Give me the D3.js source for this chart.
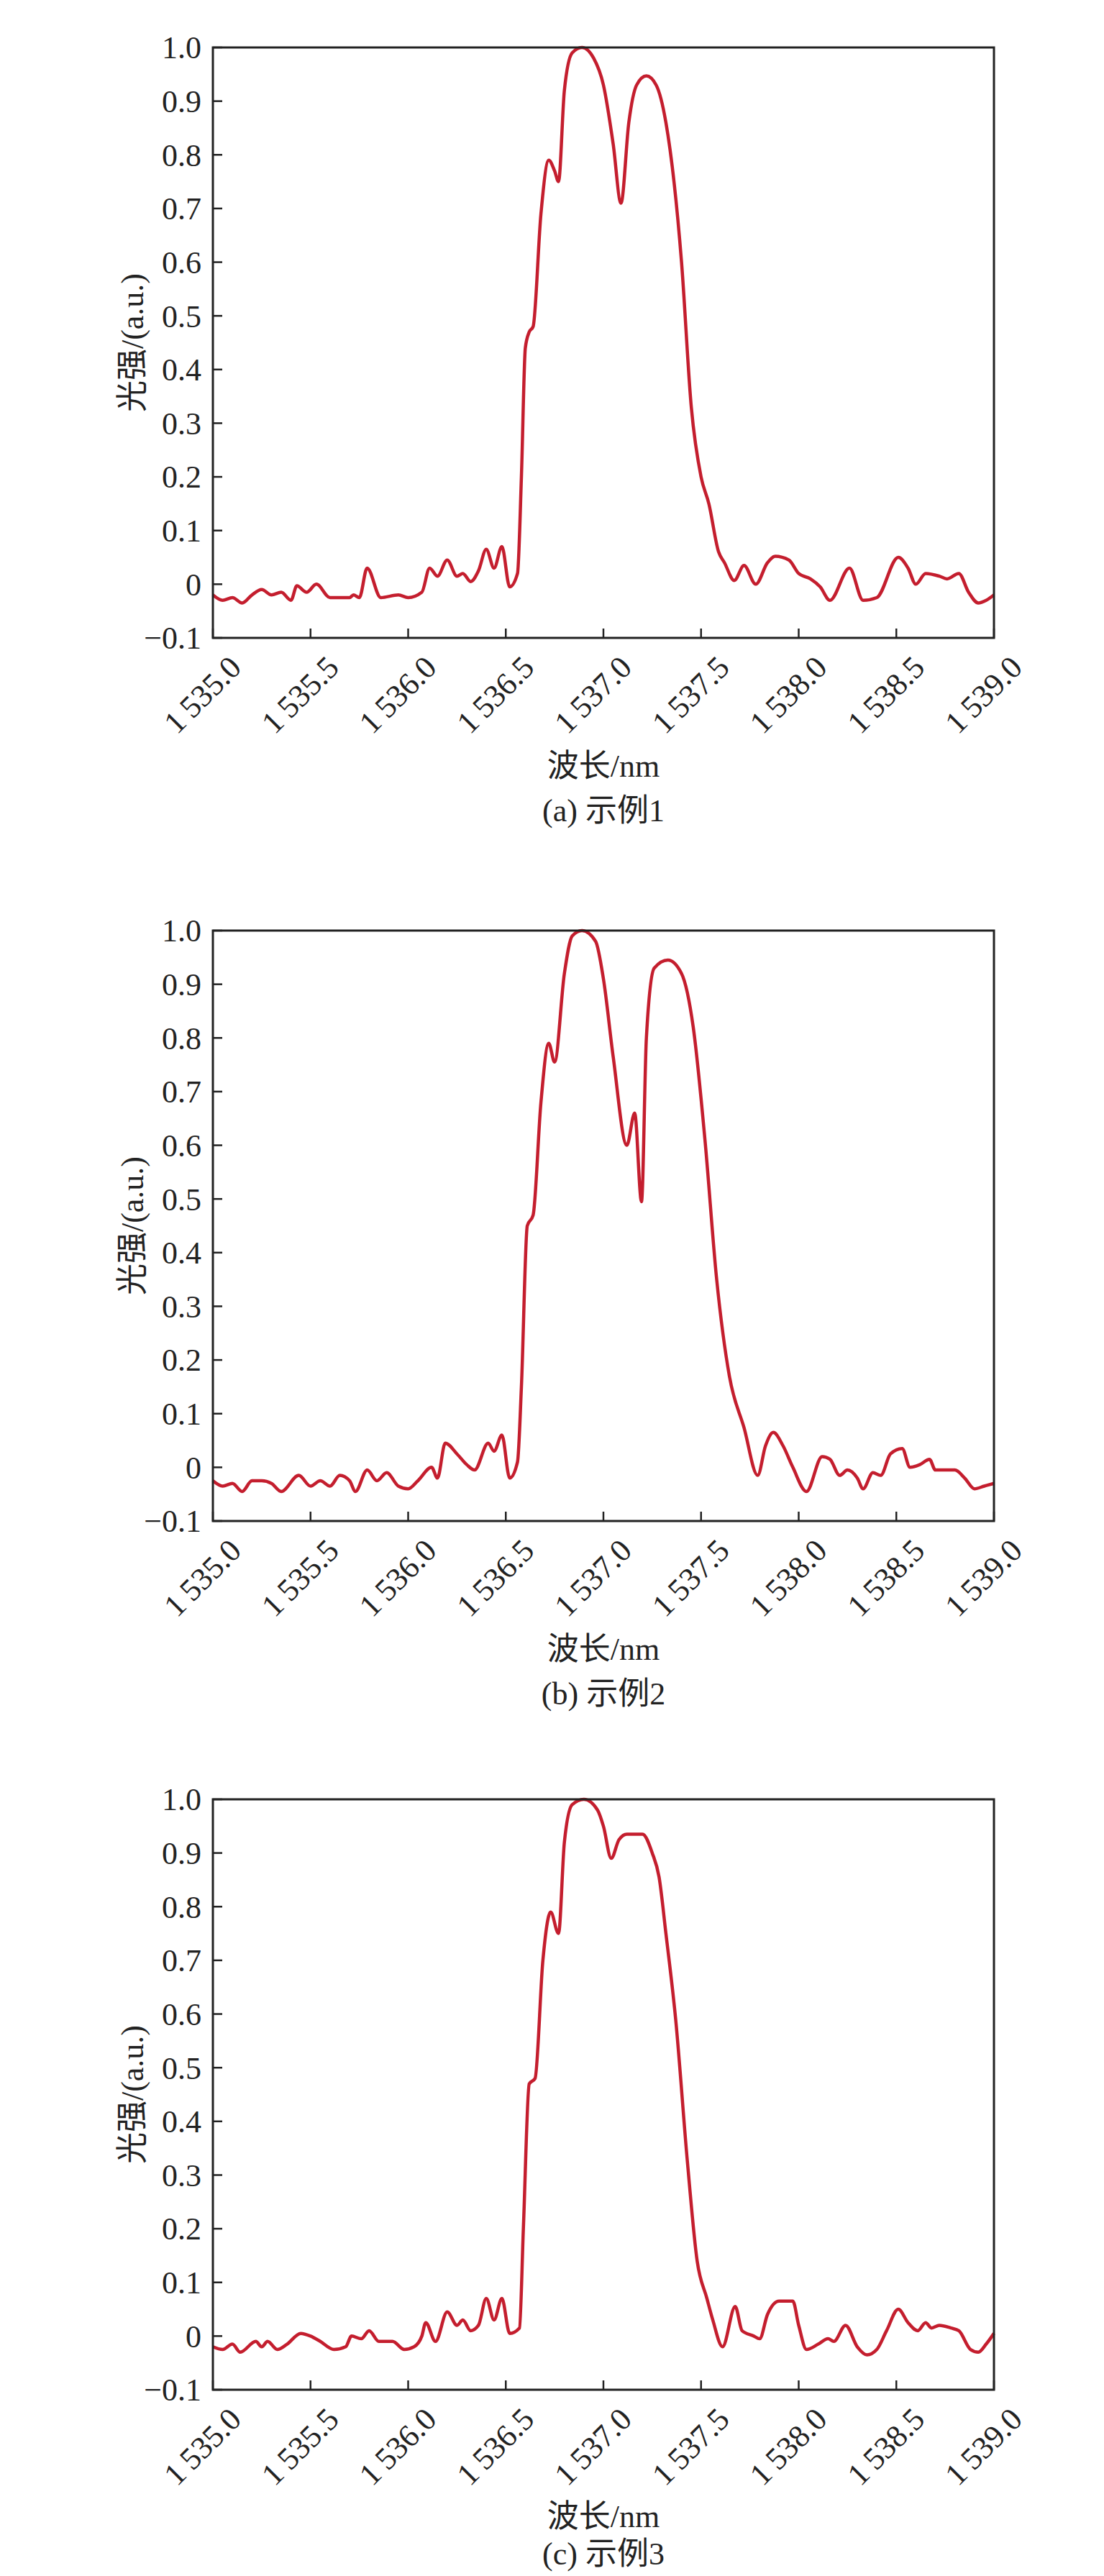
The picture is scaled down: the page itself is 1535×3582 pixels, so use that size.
<!DOCTYPE html>
<html><head><meta charset="utf-8">
<script src="https://cdn.jsdelivr.net/npm/d3@7"></script>
<style>body{margin:0;background:#fff}</style>
</head><body>
<svg id="c" width="1535" height="3582"></svg>
<script>
const xTicks = [1535.0,1535.5,1536.0,1536.5,1537.0,1537.5,1538.0,1538.5,1539.0];
const yTicks = [-0.1,0,0.1,0.2,0.3,0.4,0.5,0.6,0.7,0.8,0.9,1.0];
const captions = ["(a) 示例1","(b) 示例2","(c) 示例3"];
const xTitle = "波长/nm";
const yTitle = "光强/(a.u.)";

const wl1 = [1535.00,1535.05,1535.10,1535.15,1535.20,1535.25,1535.30,1535.35,1535.40,1535.43,1535.48,1535.53,1535.60,1535.70,1535.72,1535.75,1535.79,1535.86,1535.95,1536.00,1536.07,1536.11,1536.15,1536.20,1536.25,1536.28,1536.32,1536.36,1536.40,1536.44,1536.48,1536.52,1536.56,1536.58,1536.60,1536.62,1536.64,1536.68,1536.72,1536.75,1536.77,1536.80,1536.84,1536.89,1536.95,1537.00,1537.05,1537.09,1537.13,1537.17,1537.22,1537.27,1537.32,1537.40,1537.45,1537.50,1537.54,1537.59,1537.62,1537.67,1537.72,1537.78,1537.84,1537.88,1537.95,1538.00,1538.06,1538.11,1538.16,1538.26,1538.33,1538.40,1538.51,1538.56,1538.60,1538.65,1538.72,1538.76,1538.82,1538.87,1538.92,1538.96,1539.00];
const int1 = [-0.02,-0.03,-0.025,-0.035,-0.02,-0.01,-0.02,-0.015,-0.03,-0.003,-0.015,0.0,-0.025,-0.025,-0.02,-0.025,0.03,-0.025,-0.02,-0.025,-0.015,0.03,0.015,0.045,0.015,0.02,0.005,0.025,0.065,0.03,0.07,-0.005,0.02,0.2,0.44,0.47,0.48,0.69,0.79,0.77,0.75,0.92,0.99,1.0,0.98,0.93,0.82,0.71,0.86,0.93,0.947,0.93,0.86,0.6,0.33,0.2,0.15,0.06,0.04,0.007,0.035,0.0,0.04,0.052,0.045,0.02,0.01,-0.005,-0.03,0.03,-0.03,-0.025,0.05,0.03,0.0,0.02,0.015,0.01,0.02,-0.015,-0.035,-0.03,-0.02];

const wl2 = [1535.00,1535.05,1535.10,1535.15,1535.20,1535.25,1535.30,1535.35,1535.44,1535.50,1535.55,1535.60,1535.65,1535.70,1535.73,1535.79,1535.84,1535.89,1535.95,1536.00,1536.05,1536.12,1536.15,1536.19,1536.25,1536.30,1536.34,1536.41,1536.44,1536.48,1536.52,1536.56,1536.58,1536.61,1536.64,1536.68,1536.72,1536.75,1536.80,1536.84,1536.89,1536.96,1537.00,1537.05,1537.12,1537.16,1537.195,1537.22,1537.26,1537.33,1537.40,1537.46,1537.52,1537.58,1537.645,1537.72,1537.79,1537.83,1537.87,1537.92,1537.97,1538.04,1538.12,1538.16,1538.21,1538.25,1538.30,1538.33,1538.38,1538.42,1538.47,1538.53,1538.57,1538.62,1538.67,1538.70,1538.80,1538.85,1538.90,1538.95,1539.00];
const int2 = [-0.025,-0.035,-0.03,-0.045,-0.025,-0.025,-0.03,-0.045,-0.015,-0.035,-0.025,-0.035,-0.015,-0.025,-0.045,-0.005,-0.025,-0.01,-0.035,-0.04,-0.025,0.0,-0.02,0.045,0.025,0.005,-0.005,0.045,0.03,0.06,-0.02,0.01,0.15,0.45,0.47,0.68,0.79,0.755,0.92,0.99,1.0,0.98,0.91,0.765,0.60,0.66,0.495,0.8,0.93,0.945,0.92,0.82,0.61,0.35,0.17,0.074,-0.015,0.04,0.065,0.04,0.0,-0.045,0.02,0.015,-0.015,-0.005,-0.02,-0.04,-0.01,-0.015,0.025,0.035,0.0,0.005,0.015,-0.005,-0.005,-0.02,-0.04,-0.035,-0.03];

const wl3 = [1535.00,1535.05,1535.10,1535.14,1535.22,1535.25,1535.28,1535.33,1535.38,1535.45,1535.50,1535.55,1535.62,1535.68,1535.71,1535.76,1535.80,1535.85,1535.92,1535.98,1536.03,1536.07,1536.09,1536.14,1536.20,1536.25,1536.28,1536.32,1536.36,1536.40,1536.44,1536.48,1536.52,1536.57,1536.59,1536.62,1536.65,1536.69,1536.73,1536.77,1536.80,1536.84,1536.90,1536.97,1537.00,1537.04,1537.08,1537.12,1537.20,1537.25,1537.285,1537.32,1537.37,1537.43,1537.48,1537.53,1537.56,1537.61,1537.675,1537.71,1537.77,1537.80,1537.84,1537.90,1537.97,1538.00,1538.04,1538.10,1538.15,1538.18,1538.24,1538.30,1538.35,1538.40,1538.45,1538.51,1538.56,1538.61,1538.65,1538.68,1538.72,1538.78,1538.82,1538.88,1538.92,1538.96,1539.00];
const int3 = [-0.02,-0.025,-0.015,-0.03,-0.01,-0.02,-0.01,-0.025,-0.015,0.005,0.0,-0.01,-0.025,-0.02,0.0,-0.005,0.01,-0.01,-0.01,-0.025,-0.02,0.0,0.025,-0.01,0.045,0.02,0.03,0.01,0.02,0.07,0.03,0.07,0.005,0.015,0.2,0.47,0.48,0.7,0.79,0.75,0.92,0.99,1.0,0.98,0.95,0.89,0.925,0.935,0.935,0.9,0.855,0.75,0.59,0.325,0.14,0.07,0.03,-0.02,0.055,0.01,0.0,-0.005,0.04,0.065,0.065,0.02,-0.025,-0.015,-0.005,-0.01,0.02,-0.02,-0.035,-0.025,0.01,0.05,0.025,0.01,0.025,0.015,0.02,0.015,0.01,-0.025,-0.03,-0.015,0.005];

const series = [[wl1,int1],[wl2,int2],[wl3,int3]];
const tops = [66,1294,2502];
const titleOff = [1014,1014,1012];
const capOff = [1076,1076,1064];
const L=296, R=1382, H=821;
const svg = d3.select("#c");
const font = "'Liberation Serif','Times New Roman',serif";
const cjk = "'Liberation Serif','Noto Sans CJK SC',serif";
const x = d3.scaleLinear().domain([1535,1539]).range([L,R]);
const fmtX = d => "1\u2009" + d3.format(".1f")(d).slice(1);
const fmtY = d => d===0 ? "0" : d3.format(".1f")(d).replace("-","\u2212");

series.forEach(([wl,iv],i)=>{
  const T = tops[i];
  const y = d3.scaleLinear().domain([-0.1,1.0]).range([T+H,T]);
  const g = svg.append("g");
  g.selectAll(".yt").data(yTicks).join("line")
    .attr("x1",L).attr("x2",L+13).attr("y1",d=>y(d)).attr("y2",d=>y(d))
    .attr("stroke","#222").attr("stroke-width",2.5);
  g.selectAll(".xt").data(xTicks).join("line")
    .attr("x1",d=>x(d)).attr("x2",d=>x(d)).attr("y1",T+H).attr("y2",T+H-13)
    .attr("stroke","#222").attr("stroke-width",2.5);
  g.selectAll(".yl").data(yTicks).join("text")
    .attr("x",L-16).attr("y",d=>y(d)).attr("dy","0.35em")
    .attr("text-anchor","end").attr("font-family",font).attr("font-size",44)
    .attr("fill","#222").text(fmtY);
  g.selectAll(".xl").data(xTicks).join("text")
    .attr("transform",d=>`translate(${x(d)+20},${T+H+22}) rotate(-45)`)
    .attr("text-anchor","end").attr("dy","0.7em")
    .attr("font-family",font).attr("font-size",44).attr("fill","#222").text(fmtX);
  const line = d3.line().x((d,k)=>x(wl[k])).y(d=>y(d)).curve(d3.curveMonotoneX);
  g.append("path").datum(iv).attr("d",line).attr("fill","none")
    .attr("stroke","#c41e2e").attr("stroke-width",4.5).attr("stroke-linejoin","round");
  g.append("rect").attr("x",L).attr("y",T).attr("width",R-L).attr("height",H)
    .attr("fill","none").attr("stroke","#222").attr("stroke-width",3);
  g.append("text").attr("transform",`translate(${L-112},${T+H/2}) rotate(-90)`)
    .attr("text-anchor","middle").attr("dy","0.35em").attr("font-family",cjk)
    .attr("font-size",44).attr("fill","#222").text(yTitle);
  g.append("text").attr("x",(L+R)/2).attr("y",T+titleOff[i]).attr("text-anchor","middle")
    .attr("font-family",cjk).attr("font-size",44).attr("fill","#222").text(xTitle);
  g.append("text").attr("x",(L+R)/2).attr("y",T+capOff[i]).attr("text-anchor","middle")
    .attr("font-family",cjk).attr("font-size",44).attr("fill","#222").text(captions[i]);
});
</script>
</body></html>
